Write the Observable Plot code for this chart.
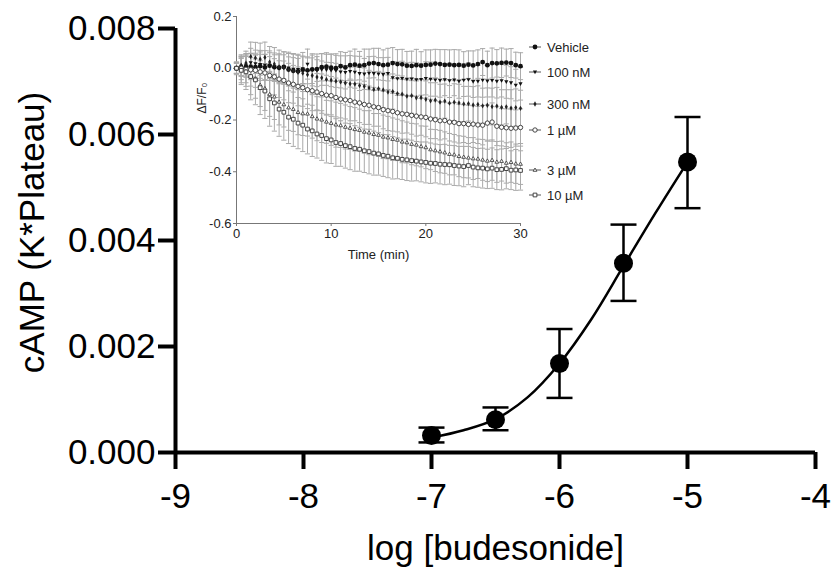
<!DOCTYPE html>
<html>
<head>
<meta charset="utf-8">
<script src="https://cdn.jsdelivr.net/npm/d3@7"></script>
<script src="https://cdn.jsdelivr.net/npm/@observablehq/plot@0.6"></script>
<style>
  html, body { margin: 0; padding: 0; background: #fff; }
  #wrap { position: relative; width: 831px; height: 573px; overflow: hidden; font-family: "Liberation Sans", Arial, sans-serif; }
  #main, #inset, #legend { position: absolute; }
  #main { left: 0; top: 0; }
  #inset { left: 190px; top: 0; }
  #legend { left: 0; top: 0; width: 831px; height: 300px; pointer-events: none; }
  .lg { position: absolute; display: flex; align-items: center; font-size: 13px; color: #222; white-space: nowrap; }
  .lg svg { margin-right: 4px; }
</style>
</head>
<body>
<div id="wrap">
  <div id="main"></div>
  <div id="inset"></div>
  <div id="legend"></div>
</div>
<script>
// ---------------- Main chart data ----------------
const logConc = [-7, -6.5, -6, -5.5, -5];
const campMean = [0.00032, 0.00062, 0.00168, 0.00357, 0.00548];
const campLow  = [0.00019, 0.00042, 0.00103, 0.00286, 0.00461];
const campHigh = [0.00047, 0.00085, 0.00233, 0.00430, 0.00633];
// fitted curve
const fitX = [-7, -6.75, -6.5, -6.25, -6, -5.75, -5.5, -5.25, -5];
const fitY = [0.00028, 0.00042, 0.00063, 0.00104, 0.00168, 0.00252, 0.00352, 0.00452, 0.00548];
const xTicks = [-9, -8, -7, -6, -5, -4];
const yTicks = [0, 0.002, 0.004, 0.006, 0.008];

// ---------------- Inset data (sampled every 30 s, 0–30 min) ----------------
const sampleSeconds = 30;
const insetXTicks = [0, 10, 20, 30];
const insetYTicks = [0.2, 0, -0.2, -0.4, -0.6];
const seriesNames = ["Vehicle", "100 nM", "300 nM", "1 µM", "3 µM", "10 µM"];

const vehicle = [0.000,0.003,0.005,0.006,0.004,0.008,0.003,0.010,0.004,0.002,
 0.005,-0.005,-0.010,-0.012,-0.006,-0.008,-0.004,-0.003,0.004,0.006,
 0.002,0.000,0.008,0.003,0.012,0.014,0.010,0.012,0.018,0.020,
 0.016,0.012,0.014,0.020,0.016,0.015,0.010,0.009,0.012,0.010,
 0.013,0.014,0.018,0.016,0.013,0.014,0.012,0.013,0.010,0.014,
 0.011,0.016,0.024,0.012,0.020,0.019,0.021,0.022,0.020,0.012,
 0.008];
const nM100 = [0.000,0.008,0.012,0.022,0.018,0.015,0.012,0.010,0.004,0.000,
 0.003,0.001,-0.004,-0.005,-0.002,0.016,-0.006,-0.008,-0.005,-0.006,
 -0.008,-0.009,-0.014,-0.016,-0.012,-0.015,-0.020,-0.022,-0.019,-0.020,
 -0.022,-0.024,-0.020,-0.036,-0.040,-0.039,-0.042,-0.041,-0.044,-0.043,
 -0.039,-0.042,-0.045,-0.047,-0.044,-0.048,-0.045,-0.050,-0.046,-0.044,
 -0.051,-0.050,-0.046,-0.049,-0.047,-0.050,-0.048,-0.052,-0.056,-0.065,
 -0.060];
const nM300 = [0.000,0.012,0.020,0.045,0.040,0.035,0.042,0.024,0.016,0.005,
 0.002,-0.006,-0.010,-0.016,-0.019,-0.025,-0.028,-0.034,-0.037,-0.043,
 -0.046,-0.050,-0.053,-0.057,-0.060,-0.061,-0.067,-0.070,-0.076,-0.082,
 -0.079,-0.084,-0.092,-0.090,-0.098,-0.100,-0.108,-0.106,-0.114,-0.113,
 -0.120,-0.126,-0.123,-0.131,-0.127,-0.135,-0.131,-0.134,-0.138,-0.137,
 -0.142,-0.140,-0.145,-0.143,-0.148,-0.146,-0.151,-0.149,-0.154,-0.152,
 -0.155];
const uM1 = [0.000,0.000,-0.004,-0.006,-0.008,-0.014,-0.018,-0.028,-0.033,-0.042,
 -0.047,-0.057,-0.062,-0.070,-0.075,-0.083,-0.087,-0.092,-0.098,-0.104,
 -0.106,-0.113,-0.119,-0.122,-0.125,-0.131,-0.134,-0.140,-0.143,-0.149,
 -0.152,-0.160,-0.164,-0.167,-0.172,-0.176,-0.178,-0.182,-0.185,-0.188,
 -0.190,-0.196,-0.199,-0.203,-0.202,-0.208,-0.209,-0.214,-0.214,-0.217,
 -0.216,-0.219,-0.220,-0.212,-0.208,-0.224,-0.228,-0.230,-0.232,-0.231,
 -0.229];
const uM3 = [0.000,-0.008,-0.012,-0.030,-0.040,-0.065,-0.078,-0.101,-0.110,-0.130,
 -0.140,-0.152,-0.158,-0.170,-0.175,-0.176,-0.186,-0.195,-0.199,-0.207,
 -0.212,-0.218,-0.221,-0.227,-0.231,-0.236,-0.239,-0.246,-0.249,-0.255,
 -0.258,-0.265,-0.268,-0.274,-0.277,-0.284,-0.287,-0.293,-0.296,-0.302,
 -0.306,-0.314,-0.318,-0.322,-0.326,-0.332,-0.334,-0.340,-0.343,-0.346,
 -0.349,-0.350,-0.354,-0.358,-0.355,-0.362,-0.359,-0.366,-0.363,-0.369,
 -0.370];
const uM10 = [0.000,-0.008,-0.014,-0.032,-0.045,-0.075,-0.088,-0.118,-0.134,-0.158,
 -0.170,-0.189,-0.197,-0.212,-0.220,-0.235,-0.242,-0.254,-0.260,-0.272,
 -0.277,-0.287,-0.291,-0.299,-0.303,-0.310,-0.313,-0.319,-0.322,-0.328,
 -0.331,-0.337,-0.340,-0.346,-0.348,-0.352,-0.354,-0.357,-0.359,-0.362,
 -0.364,-0.367,-0.368,-0.371,-0.372,-0.373,-0.376,-0.378,-0.380,-0.376,
 -0.382,-0.385,-0.386,-0.389,-0.386,-0.392,-0.391,-0.388,-0.394,-0.393,
 -0.395];

const vehicleSem = [0.020,0.035,0.040,0.050,0.048,0.055,0.050,0.050,0.048,0.050,
 0.047,0.049,0.051,0.050,0.053,0.052,0.055,0.048,0.053,0.054,
 0.052,0.050,0.056,0.058,0.054,0.060,0.055,0.062,0.056,0.057,
 0.061,0.059,0.063,0.060,0.056,0.058,0.055,0.057,0.061,0.054,
 0.058,0.057,0.055,0.056,0.059,0.057,0.060,0.058,0.054,0.053,
 0.056,0.055,0.052,0.054,0.058,0.053,0.057,0.052,0.056,0.050,
 0.052];
const nM100Sem = [0.020,0.038,0.045,0.055,0.052,0.054,0.056,0.057,0.055,0.056,
 0.060,0.061,0.058,0.059,0.063,0.058,0.062,0.063,0.061,0.060,
 0.063,0.065,0.062,0.064,0.061,0.062,0.066,0.060,0.064,0.066,
 0.063,0.065,0.062,0.061,0.065,0.066,0.063,0.064,0.065,0.061,
 0.064,0.066,0.063,0.065,0.062,0.065,0.061,0.066,0.063,0.064,
 0.062,0.061,0.066,0.062,0.064,0.065,0.063,0.064,0.062,0.061,
 0.063];
const nM300Sem = [0.020,0.040,0.046,0.056,0.060,0.062,0.059,0.060,0.064,0.065,
 0.062,0.063,0.067,0.066,0.063,0.065,0.068,0.067,0.065,0.066,
 0.068,0.069,0.066,0.067,0.065,0.066,0.070,0.071,0.068,0.069,
 0.067,0.068,0.066,0.068,0.071,0.070,0.066,0.068,0.070,0.070,
 0.071,0.070,0.067,0.069,0.066,0.068,0.071,0.072,0.068,0.067,
 0.071,0.072,0.068,0.067,0.071,0.072,0.068,0.066,0.071,0.072,
 0.070];
const uM1Sem = [0.020,0.044,0.052,0.063,0.066,0.068,0.072,0.073,0.070,0.071,
 0.075,0.076,0.073,0.075,0.072,0.073,0.077,0.072,0.076,0.077,
 0.074,0.075,0.073,0.074,0.078,0.072,0.076,0.077,0.074,0.075,
 0.072,0.074,0.077,0.076,0.074,0.075,0.072,0.073,0.077,0.071,
 0.075,0.076,0.073,0.074,0.071,0.073,0.076,0.075,0.073,0.074,
 0.071,0.072,0.076,0.070,0.074,0.075,0.072,0.073,0.074,0.070,
 0.072];
const uM3Sem = [0.022,0.048,0.058,0.072,0.076,0.083,0.085,0.085,0.088,0.089,
 0.087,0.088,0.086,0.087,0.085,0.086,0.084,0.085,0.088,0.083,
 0.086,0.087,0.085,0.085,0.083,0.084,0.081,0.082,0.085,0.080,
 0.083,0.084,0.082,0.082,0.080,0.081,0.079,0.080,0.081,0.079,
 0.082,0.078,0.081,0.082,0.080,0.080,0.078,0.079,0.080,0.078,
 0.081,0.076,0.079,0.080,0.078,0.079,0.077,0.078,0.078,0.076,
 0.079];
const uM10Sem = [0.025,0.055,0.068,0.090,0.096,0.104,0.106,0.106,0.109,0.105,
 0.108,0.102,0.105,0.099,0.102,0.096,0.099,0.093,0.096,0.094,
 0.091,0.092,0.088,0.087,0.089,0.088,0.085,0.084,0.086,0.085,
 0.082,0.081,0.083,0.082,0.079,0.078,0.080,0.079,0.076,0.077,
 0.079,0.078,0.075,0.076,0.078,0.075,0.077,0.076,0.078,0.074,
 0.076,0.075,0.077,0.076,0.078,0.077,0.079,0.078,0.075,0.079,
 0.076];

// ---------------- Build tables ----------------
const FONT = '"Liberation Sans", Arial, Helvetica, sans-serif';
const mainPts = logConc.map((x, i) => ({x, y: campMean[i], lo: campLow[i], hi: campHigh[i]}));
const fitPts = fitX.map((x, i) => ({x, y: fitY[i]}));

const insetMeans = [vehicle, nM100, nM300, uM1, uM3, uM10];
const insetSems = [vehicleSem, nM100Sem, nM300Sem, uM1Sem, uM3Sem, uM10Sem];
const insetRows = [];
seriesNames.forEach((name, s) => {
  insetMeans[s].forEach((v, i) => {
    insetRows.push({series: name, t: i * sampleSeconds / 60, v, lo: v - insetSems[s][i], hi: v + insetSems[s][i]});
  });
});

// custom symbols
const capSymbol = {draw(ctx, size) { const w = Math.sqrt(size / Math.PI); ctx.moveTo(-w, 0); ctx.lineTo(w, 0); }};
const triDown = {draw(ctx, size) { const r = Math.sqrt(size / Math.PI); ctx.moveTo(0, r); ctx.lineTo(r * 0.95, -r * 0.65); ctx.lineTo(-r * 0.95, -r * 0.65); ctx.closePath(); }};
const triUp = {draw(ctx, size) { const r = Math.sqrt(size / Math.PI); ctx.moveTo(0, -r); ctx.lineTo(r * 0.95, r * 0.65); ctx.lineTo(-r * 0.95, r * 0.65); ctx.closePath(); }};

const seriesStyle = {
  "Vehicle": {symbol: "circle", r: 2.4, fill: "#111", stroke: "none"},
  "100 nM": {symbol: triDown, r: 2.2, fill: "#111", stroke: "none"},
  "300 nM": {symbol: "diamond", r: 1.6, fill: "#222", stroke: "none"},
  "1 µM": {symbol: "circle", r: 2.2, fill: "#fff", stroke: "#333"},
  "3 µM": {symbol: triUp, r: 2.0, fill: "#fff", stroke: "#444"},
  "10 µM": {symbol: "square", r: 2.1, fill: "#fff", stroke: "#333"}
};

// ---------------- Main chart ----------------
const main = Plot.plot({
  width: 831, height: 573,
  marginLeft: 175, marginRight: 16, marginTop: 28, marginBottom: 121,
  x: {domain: [-9, -4]},
  y: {domain: [0, 0.008]},
  style: {fontFamily: FONT, fontSize: "35px", color: "#000", background: "#fff", overflow: "visible"},
  marks: [
    Plot.ruleX([-9], {y1: 0, y2: 0.008, strokeWidth: 4}),
    Plot.ruleY([0], {strokeWidth: 4}),
    Plot.axisY({ticks: yTicks, tickSize: 17, tickPadding: 3, strokeWidth: 4, tickFormat: d3.format(".3f"), label: null}),
    Plot.axisX({ticks: xTicks, tickSize: 17, tickPadding: 14, strokeWidth: 4, tickFormat: d => String(d), label: null}),
    Plot.text(["cAMP (K*Plateau)"], {frameAnchor: "left", textAnchor: "middle", lineAnchor: "middle", rotate: -90, dx: -143, dy: -8, fontSize: 35}),
    Plot.text(["log [budesonide]"], {frameAnchor: "bottom", textAnchor: "middle", lineAnchor: "middle", dy: 96, fontSize: 35}),
    Plot.line(fitPts, {x: "x", y: "y", curve: "catmull-rom", strokeWidth: 2.5, stroke: "#000"}),
    Plot.ruleX(mainPts, {x: "x", y1: "lo", y2: "hi", strokeWidth: 2.5, stroke: "#000"}),
    Plot.dot(mainPts, {x: "x", y: "lo", symbol: capSymbol, r: 13, stroke: "#000", strokeWidth: 2.5, fill: "none"}),
    Plot.dot(mainPts, {x: "x", y: "hi", symbol: capSymbol, r: 13, stroke: "#000", strokeWidth: 2.5, fill: "none"}),
    Plot.dot(mainPts, {x: "x", y: "y", r: 9.5, fill: "#000", stroke: "none"})
  ]
});
document.getElementById("main").appendChild(main);

// ---------------- Inset ----------------
const insetMarks = [
  Plot.ruleX([0], {stroke: "#777", strokeWidth: 1}),
  Plot.ruleY([-0.6], {stroke: "#777", strokeWidth: 1}),
  Plot.axisY({ticks: insetYTicks, tickSize: 3, tickPadding: 2, stroke: "#777", tickFormat: d => d.toFixed(1), label: null, fill: "#222"}),
  Plot.axisX({ticks: insetXTicks, tickSize: 3, tickPadding: 2, stroke: "#777", tickFormat: d => String(d), label: null, fill: "#222"}),
  Plot.text(["Time (min)"], {frameAnchor: "bottom", textAnchor: "middle", lineAnchor: "middle", dy: 31, fill: "#222", fontSize: 13}),
  Plot.text(["ΔF/F₀"], {frameAnchor: "left", textAnchor: "middle", lineAnchor: "middle", rotate: -90, dx: -34, dy: -22, fill: "#222", fontSize: 12}),
  Plot.ruleX(insetRows, {x: "t", y1: "lo", y2: "hi", stroke: "#aaa", strokeWidth: 1}),
  Plot.dot(insetRows, {x: "t", y: "lo", symbol: capSymbol, r: 2.6, stroke: "#aaa", strokeWidth: 1, fill: "none"}),
  Plot.dot(insetRows, {x: "t", y: "hi", symbol: capSymbol, r: 2.6, stroke: "#aaa", strokeWidth: 1, fill: "none"})
];
seriesNames.forEach(name => {
  const st = seriesStyle[name];
  insetMarks.push(Plot.dot(insetRows.filter(d => d.series === name), {
    x: "t", y: "v", symbol: st.symbol, r: st.r, fill: st.fill, stroke: st.stroke, strokeWidth: 0.9
  }));
});
const inset = Plot.plot({
  width: 345, height: 265,
  marginLeft: 46, marginRight: 15, marginTop: 16, marginBottom: 42,
  x: {domain: [0, 30]},
  y: {domain: [-0.6, 0.2]},
  style: {fontFamily: FONT, fontSize: "13px", color: "#222", background: "transparent", overflow: "visible"},
  marks: insetMarks
});
document.getElementById("inset").appendChild(inset);

// ---------------- Legend (HTML) ----------------
const legendTops = [47, 72, 104, 130, 170, 195];
const legend = d3.select("#legend");
seriesNames.forEach((name, i) => {
  const st = seriesStyle[name];
  const item = legend.append("div").attr("class", "lg")
    .style("left", "527px").style("top", (legendTops[i] - 8) + "px").style("height", "16px");
  const svg = item.append("svg").attr("width", 16).attr("height", 12);
  svg.append("line").attr("x1", 2).attr("x2", 14).attr("y1", 6).attr("y2", 6).attr("stroke", "#555").attr("stroke-width", 1);
  const r = st.r;
  const symType = typeof st.symbol === "string"
    ? {circle: d3.symbolCircle, diamond: d3.symbolDiamond, square: d3.symbolSquare}[st.symbol]
    : st.symbol;
  svg.append("path").attr("transform", "translate(8,6)")
    .attr("d", d3.symbol(symType, r * r * Math.PI)())
    .attr("fill", st.fill).attr("stroke", st.stroke).attr("stroke-width", 0.9);
  item.append("span").text(name);
});
</script>
</body>
</html>
